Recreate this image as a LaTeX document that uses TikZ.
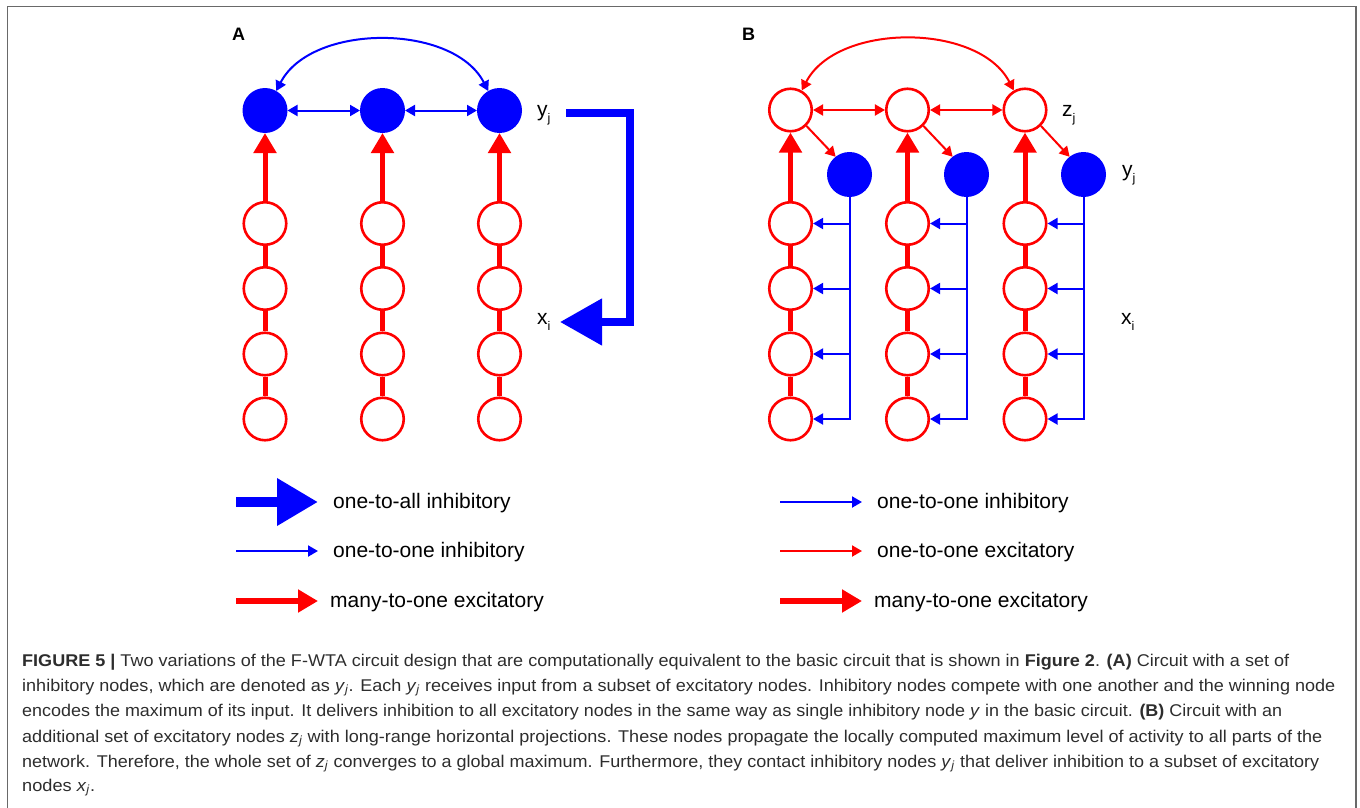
\documentclass[tikz,border=0pt]{standalone}
\usepackage{fontspec}
\setmainfont{Liberation Sans}
\newfontfamily\capfont[FakeStretch=0.9]{Liberation Sans}
\usepackage{graphicx}
\usetikzlibrary{arrows.meta}
\definecolor{rblue}{RGB}{0,0,255}
\definecolor{rred}{RGB}{255,0,0}
\definecolor{framegray}{RGB}{105,105,105}
\definecolor{captext}{RGB}{45,45,45}
\newcommand{\lsub}[1]{\raisebox{-0.3em}{\fontsize{12.5}{12.5}\selectfont #1}}
\newcommand{\isub}[2]{\textit{#1}\textsubscript{\textit{#2}}}
\begin{document}
\begin{tikzpicture}[x=1pt,y=-1pt,
  inhnode/.style={circle, fill=rblue, minimum size=45pt, inner sep=0pt, outer sep=0pt},
  excnode/.style={circle, draw=rred, line width=2.6pt, fill=white, minimum size=42.5pt, inner sep=0pt},
  chainline/.style={draw=rred, line width=5pt},
  manyexc/.style={draw=rred, line width=5pt, -{Triangle[length=20pt,width=22pt]}},
  manyexcleg/.style={draw=rred, line width=6pt, -{Triangle[length=20pt,width=22pt]}},
  oneinh/.style={draw=rblue, line width=2pt, -{Triangle[length=10pt,width=11pt]}},
  oneexc/.style={draw=rred, line width=2pt, -{Triangle[length=10pt,width=11pt]}},
  biinh/.style={draw=rblue, line width=2pt, {Triangle[length=10pt,width=11pt]}-{Triangle[length=10pt,width=11pt]}},
  biexc/.style={draw=rred, line width=2pt, {Triangle[length=10pt,width=11pt]}-{Triangle[length=10pt,width=11pt]}},
  allinh/.style={draw=rblue, line width=8pt, line join=miter, -{Triangle[length=42pt,width=45pt]}},
  allinhleg/.style={draw=rblue, line width=10pt, -{Triangle[length=41pt,width=45pt]}},
  lbl/.style={font=\fontsize{21}{25}\selectfont, inner sep=0pt, anchor=base west},
  panellbl/.style={font=\fontsize{18}{20}\selectfont\bfseries, inner sep=0pt, anchor=base west},
  captionline/.style={font=\capfont\fontsize{17}{20}\selectfont, text=captext, inner sep=0pt, anchor=base west}
]
\useasboundingbox (0,0) rectangle (1360,808);
% frame
\draw[framegray, line width=1.5pt] (7.5,812) -- (7.5,6.5) -- (1356,6.5) -- (1356,812);

% ---------------- Panel A ----------------
\node[panellbl] (labA) at (232,41) {A};
\foreach \c/\xx in {1/265,2/382.5,3/499.5}{
  \node[inhnode] (ya\c) at (\xx,110.5) {};
  \foreach \r/\yy in {1/223.5,2/288.5,3/354,4/419}{
    \node[excnode] (xa\c\r) at (\xx,\yy) {};
  }
  \draw[chainline] (xa\c1.south) -- (xa\c2.north);
  \draw[chainline] (xa\c2.south) -- (xa\c3.north);
  \draw[chainline] (xa\c3.south) -- (xa\c4.north);
  \draw[manyexc] (xa\c1.north) -- (ya\c.south);
}
\draw[biinh] (ya1.east) -- (ya2.west);
\draw[biinh] (ya2.east) -- (ya3.west);
\draw[biinh] (ya1.60) .. controls +(35,-68) and +(-35,-68) .. (ya3.120);
\node[lbl] (yjA) at (537,116.5) {y\lsub{j}};
\node[lbl] (xiA) at (537,324) {x\lsub{i}};
\coordinate (Lstart) at (566,112.5);
\coordinate (Lend) at (560,322);
\draw[allinh] (Lstart) -- (629.5,112.5) -- (629.5,322) -- (Lend);

% ---------------- Panel B ----------------
\node[panellbl] (labB) at (742,41) {B};
\foreach \c/\xx/\yx in {1/790.5/849.5,2/907.5/966.5,3/1025/1083.5}{
  \node[excnode] (zb\c) at (\xx,110) {};
  \node[inhnode] (yb\c) at (\yx,174.5) {};
  \foreach \r/\yy in {1/223.5,2/288.5,3/354,4/419}{
    \node[excnode] (xb\c\r) at (\xx,\yy) {};
  }
  \draw[chainline] (xb\c1.south) -- (xb\c2.north);
  \draw[chainline] (xb\c2.south) -- (xb\c3.north);
  \draw[chainline] (xb\c3.south) -- (xb\c4.north);
  \draw[manyexc] (xb\c1.north) -- (zb\c.south);
  \draw[oneexc] (zb\c.-45) -- (yb\c.128);
  \draw[oneinh] (yb\c.south) |- (xb\c4.east);
  \draw[oneinh] (yb\c.south |- xb\c1.east) -- (xb\c1.east);
  \draw[oneinh] (yb\c.south |- xb\c2.east) -- (xb\c2.east);
  \draw[oneinh] (yb\c.south |- xb\c3.east) -- (xb\c3.east);
}
\draw[biexc] (zb1.east) -- (zb2.west);
\draw[biexc] (zb2.east) -- (zb3.west);
\draw[biexc] (zb1.60) .. controls +(35,-68) and +(-35,-68) .. (zb3.120);
\node[lbl] (zjB) at (1062,116) {z\lsub{j}};
\node[lbl] (yjB) at (1122,176.5) {y\lsub{j}};
\node[lbl] (xiB) at (1121,324) {x\lsub{i}};

% ---------------- Legend A ----------------
\coordinate (la1s) at (236,502); \coordinate (la1e) at (318,502);
\coordinate (la2s) at (236,551); \coordinate (la2e) at (318,551);
\coordinate (la3s) at (236,601); \coordinate (la3e) at (318,601);
\draw[allinhleg] (la1s) -- (la1e);
\draw[oneinh] (la2s) -- (la2e);
\draw[manyexcleg] (la3s) -- (la3e);
\node[lbl] (ta1) at (333,508) {one-to-all inhibitory};
\node[lbl] (ta2) at (333,557) {one-to-one inhibitory};
\node[lbl] (ta3) at (330,607) {many-to-one excitatory};

% ---------------- Legend B ----------------
\coordinate (lb1s) at (780,502); \coordinate (lb1e) at (862,502);
\coordinate (lb2s) at (780,551); \coordinate (lb2e) at (862,551);
\coordinate (lb3s) at (780,601); \coordinate (lb3e) at (862,601);
\draw[oneinh] (lb1s) -- (lb1e);
\draw[oneexc] (lb2s) -- (lb2e);
\draw[manyexcleg] (lb3s) -- (lb3e);
\node[lbl] (tb1) at (877,508) {one-to-one inhibitory};
\node[lbl] (tb2) at (877,557) {one-to-one excitatory};
\node[lbl] (tb3) at (874,607) {many-to-one excitatory};

% ---------------- Caption ----------------
\node[captionline] (cap1) at (22,666) {\resizebox{1267pt}{\height}{\textbf{FIGURE 5 |} Two variations of the F-WTA circuit design that are computationally equivalent to the basic circuit that is shown in \textbf{Figure 2}. \textbf{(A)} Circuit with a set of}};
\node[captionline] (cap2) at (22,691) {\resizebox{1313pt}{\height}{inhibitory nodes, which are denoted as \isub{y}{j}. Each \isub{y}{j} receives input from a subset of excitatory nodes. Inhibitory nodes compete with one another and the winning node}};
\node[captionline] (cap3) at (22,716.5) {\resizebox{1260pt}{\height}{encodes the maximum of its input. It delivers inhibition to all excitatory nodes in the same way as single inhibitory node \textit{y} in the basic circuit. \textbf{(B)} Circuit with an}};
\node[captionline] (cap4) at (22,742) {\resizebox{1300pt}{\height}{additional set of excitatory nodes \isub{z}{j} with long-range horizontal projections. These nodes propagate the locally computed maximum level of activity to all parts of the}};
\node[captionline] (cap5) at (22,767) {\resizebox{1297pt}{\height}{network. Therefore, the whole set of \isub{z}{j} converges to a global maximum. Furthermore, they contact inhibitory nodes \isub{y}{j} that deliver inhibition to a subset of excitatory}};
\node[captionline] (cap6) at (22,791) {\resizebox{73pt}{\height}{nodes \isub{x}{j}.}};
\end{tikzpicture}
\end{document}
